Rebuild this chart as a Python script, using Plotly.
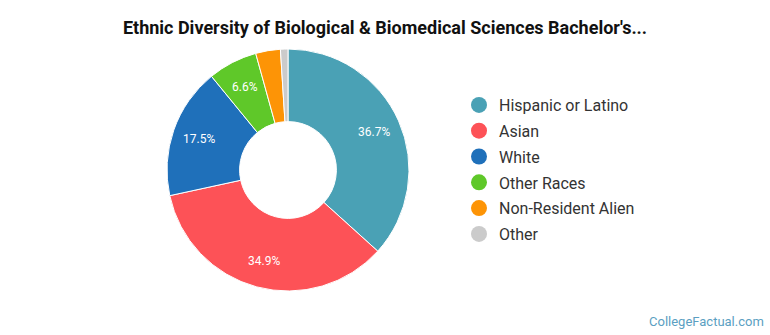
import math
import plotly.graph_objects as go

# Ethnic breakdown of Biological & Biomedical Sciences bachelor's graduates
groups = ["Hispanic or Latino", "Asian", "White", "Other Races", "Non-Resident Alien", "Other"]
shares = [36.7, 34.9, 17.5, 6.6, 3.3, 1.0]
colors = ["#4aa1b5", "#fd5257", "#1f70ba", "#5fc829", "#fd9406", "#cbcbcb"]

W, H = 770, 335
cx, cy, r = 288, 170, 121
label_r = 94  # radius at which percentage labels sit

fig = go.Figure()
fig.add_trace(go.Pie(
    labels=groups,
    values=shares,
    textinfo="none",
    marker=dict(colors=colors, line=dict(color="white", width=1)),
    hole=0.4,
    sort=False,
    direction="clockwise",
    rotation=0,
    showlegend=False,
    hoverinfo="label+percent",
    domain=dict(x=[(cx - r) / W, (cx + r) / W], y=[(H - cy - r) / H, (H - cy + r) / H]),
))

# circle legend markers
for name, col in zip(groups, colors):
    fig.add_trace(go.Scatter(
        x=[None], y=[None], mode="markers", name=name,
        marker=dict(symbol="circle", size=16, color=col),
        legendgroup=name,
    ))

# percentage labels for slices of at least 5%, placed at each slice's mid-angle
annotations = []
total = sum(shares)
start = 0.0
for v in shares:
    mid = (start + v / 2) / total * 2 * math.pi
    start += v
    if v < 5:
        continue
    px = cx + label_r * math.sin(mid)
    py = cy - label_r * math.cos(mid)
    annotations.append(dict(
        text=f"{v}%", xref="paper", yref="paper",
        x=px / W, y=1 - py / H, xanchor="center", yanchor="middle",
        showarrow=False, font=dict(family="Roboto", size=12, color="white"),
    ))

annotations.append(dict(
    text="CollegeFactual.com", xref="paper", yref="paper",
    x=766 / W, y=1 - 321 / H, xanchor="right", yanchor="middle",
    showarrow=False, font=dict(family="Roboto", size=13, color="#5b9fc2"),
))

fig.update_layout(
    width=W, height=H,
    margin=dict(l=0, r=0, t=0, b=0),
    paper_bgcolor="white",
    plot_bgcolor="white",
    title=dict(
        text="<b>Ethnic Diversity of Biological & Biomedical Sciences Bachelor's...</b>",
        x=0.5, xanchor="center", y=1 - 28 / H, yanchor="middle",
        font=dict(family="Roboto", size=18, color="#111111"),
    ),
    xaxis=dict(visible=False),
    yaxis=dict(visible=False),
    legend=dict(
        x=459 / W, xanchor="left", y=1 - 88 / H, yanchor="top",
        font=dict(family="Roboto", size=16, color="#333333"),
        tracegroupgap=2,
        bgcolor="rgba(0,0,0,0)",
    ),
    annotations=annotations,
)

fig.write_html("out.html")
